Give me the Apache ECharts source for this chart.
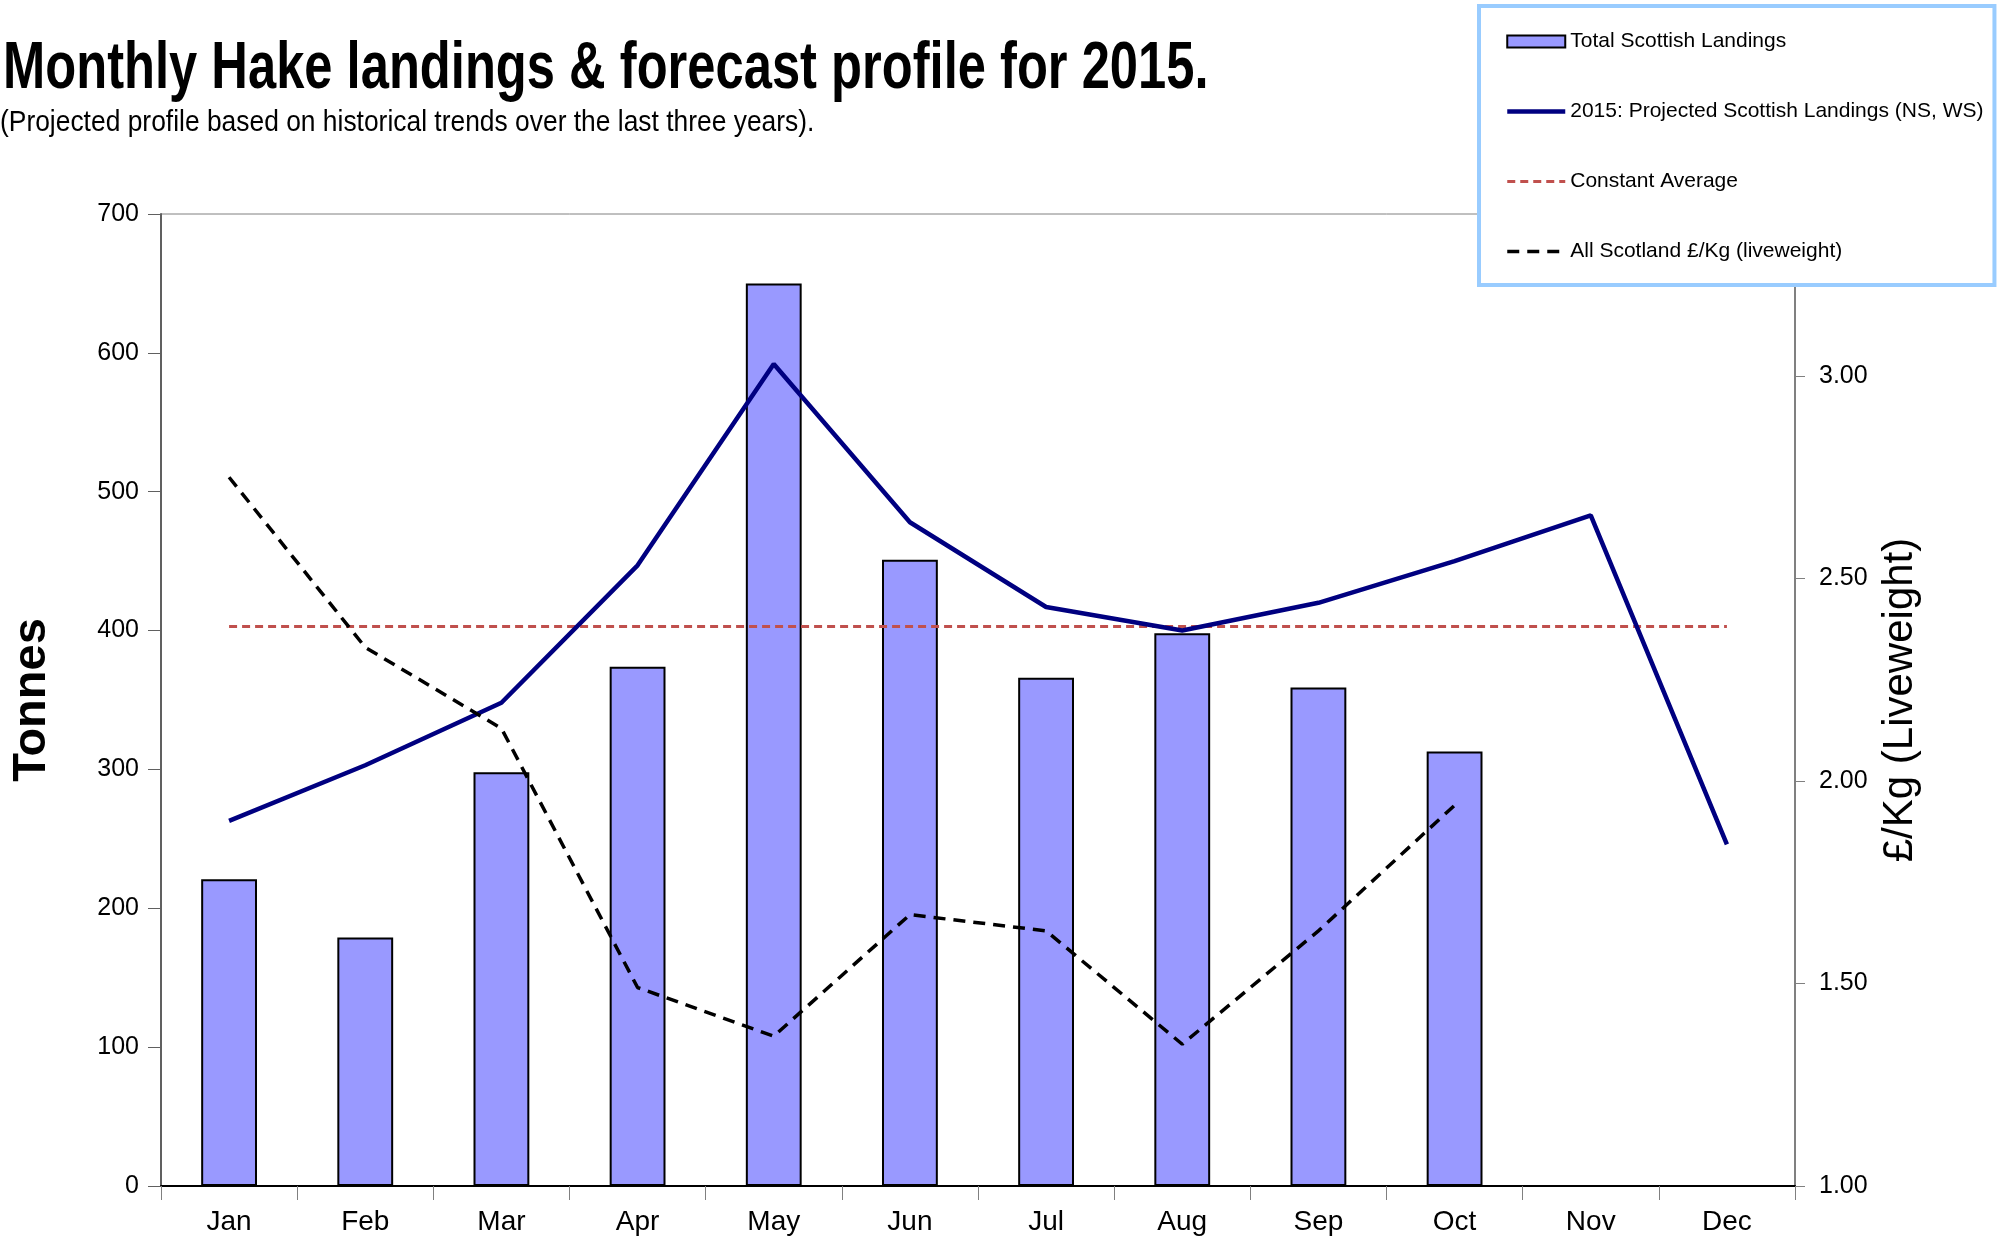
<!DOCTYPE html>
<html>
<head>
<meta charset="utf-8">
<script src="https://cdn.jsdelivr.net/npm/echarts@6/dist/echarts.min.js"></script>
<style>
html,body{margin:0;padding:0;background:#fff;}
#chart{width:2013px;height:1242px;}
</style>
</head>
<body>
<div id="chart"></div>
<script>
var months = ['Jan','Feb','Mar','Apr','May','Jun','Jul','Aug','Sep','Oct','Nov','Dec'];
var totalLandings = [221, 179, 298, 374, 650, 451, 366, 398, 359, 313, null, null];
var projected2015 = [263, 303, 348, 447, 592, 478, 417, 400, 420, 450, 483, 246];
var constantAverage = [403, 403, 403, 403, 403, 403, 403, 403, 403, 403, 403, 403];
var pricePerKg = [2.75, 2.33, 2.13, 1.49, 1.37, 1.67, 1.63, 1.35, 1.63, 1.94, null, null];
var leftTicks = [0, 700, 100];
var rightTicks = [1.0, 3.4, 0.5];

var SANS = "'Liberation Sans', Arial, sans-serif";

var chart = echarts.init(document.getElementById('chart'), null, {renderer:'canvas'});
chart.setOption({
  animation: false,
  backgroundColor: '#ffffff',
  graphic: [
    {type: 'text', x: 3, y: 70, scaleX: 0.768, z: 10,
     style: {text: 'Monthly Hake landings & forecast profile for 2015.', font: 'bold 66px ' + SANS,
             fill: '#000', align: 'left', verticalAlign: 'middle'}},
    {type: 'text', x: 0, y: 123, scaleX: 0.88, z: 10,
     style: {text: '(Projected profile based on historical trends over the last three years).', font: '30px ' + SANS,
             fill: '#000', align: 'left', verticalAlign: 'middle'}}
  ],
  legend: {
    orient: 'vertical', left: 1479, top: 6,
    padding: [25, 11, 23, 26], itemGap: 49, itemWidth: 58, itemHeight: 12,
    borderColor: '#99CCFF', borderWidth: 4, backgroundColor: '#fff',
    textStyle: {fontFamily: SANS, fontSize: 21, color: '#000'},
    data: [
      {name: 'Total Scottish Landings', icon: 'rect'},
      {name: '2015: Projected Scottish Landings (NS, WS)', itemStyle: {opacity: 0}, lineStyle: {width: 4.5}},
      {name: 'Constant Average', itemStyle: {opacity: 0}, lineStyle: {width: 3}},
      {name: 'All Scotland £/Kg (liveweight)', itemStyle: {opacity: 0}, lineStyle: {width: 3.5}}
    ]
  },
  grid: {left: 161, right: 218, top: 214, bottom: 56, show: true, borderColor: '#808080', borderWidth: 1,
         containLabel: false, outerBoundsMode: 'none'},
  xAxis: {
    type: 'category', data: months, boundaryGap: true,
    axisLine: {lineStyle: {color: '#000', width: 2}},
    axisTick: {show: true, alignWithLabel: false, length: 14, lineStyle: {color: '#808080', width: 1}},
    axisLabel: {fontFamily: SANS, fontSize: 28, color: '#000', margin: 22},
    splitLine: {show: false}
  },
  yAxis: [
    {type: 'value', min: leftTicks[0], max: leftTicks[1], interval: leftTicks[2], position: 'left',
     name: 'Tonnes', nameLocation: 'middle', nameGap: 105, nameRotate: 90,
     nameTextStyle: {fontFamily: SANS, fontWeight: 'bold', fontSize: 47, color: '#000'},
     axisLine: {show: true, lineStyle: {color: '#606060', width: 2}},
     axisTick: {show: true, length: 13, lineStyle: {color: '#606060'}},
     axisLabel: {fontFamily: SANS, fontSize: 25, color: '#000', margin: 22},
     splitLine: {show: false}},
    {type: 'value', min: rightTicks[0], max: rightTicks[1], interval: rightTicks[2], position: 'right',
     name: '£/Kg (Liveweight)', nameLocation: 'middle', nameGap: 84, nameRotate: 90,
     nameTextStyle: {fontFamily: SANS, fontSize: 42, color: '#000'},
     axisLine: {show: true, lineStyle: {color: '#808080', width: 2}},
     axisTick: {show: true, length: 10, lineStyle: {color: '#808080'}},
     axisLabel: {fontFamily: SANS, fontSize: 25, color: '#000', margin: 24, showMaxLabel: false,
       formatter: function (v) { return v > 3.2 ? '' : v.toFixed(2); }},
     splitLine: {show: false}}
  ],
  series: [
    {name: 'Total Scottish Landings', type: 'bar', yAxisIndex: 0, data: totalLandings, barWidth: '41%',
     itemStyle: {color: '#9999FF', borderColor: '#000', borderWidth: 2}, z: 1},
    {name: '2015: Projected Scottish Landings (NS, WS)', type: 'line', yAxisIndex: 0, data: projected2015,
     symbol: 'none', color: '#000080', lineStyle: {color: '#000080', width: 4.5}, z: 4},
    {name: 'Constant Average', type: 'line', yAxisIndex: 0, data: constantAverage,
     symbol: 'none', color: '#C0504D', lineStyle: {color: '#C0504D', width: 3, type: [8, 5]}, z: 3},
    {name: 'All Scotland £/Kg (liveweight)', type: 'line', yAxisIndex: 1, data: pricePerKg,
     symbol: 'none', color: '#000', lineStyle: {color: '#000', width: 3.5, type: [12, 8]}, z: 5}
  ]
});
</script>
</body>
</html>
